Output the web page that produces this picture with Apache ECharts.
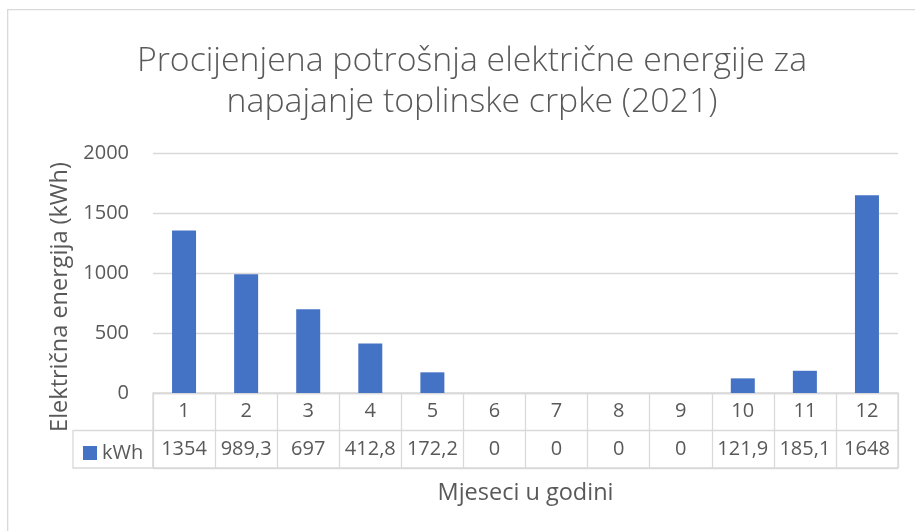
<!DOCTYPE html>
<html>
<head>
<meta charset="utf-8">
<script src="https://cdn.jsdelivr.net/npm/echarts@6/dist/echarts.min.js"></script>
<style>html,body{margin:0;padding:0;background:#fff}#c{width:915px;height:531px}</style>
</head>
<body>
<div id="c"></div>
<script>
const months = ['1','2','3','4','5','6','7','8','9','10','11','12'];
const kwh = [1354, 989.3, 697, 412.8, 172.2, 0, 0, 0, 0, 121.9, 185.1, 1648];
const yTicks = { min: 0, max: 2000, interval: 500 };
const seriesName = 'kWh';
const titleLines = ['Procijenjena potrošnja električne energije za', 'napajanje toplinske crpke (2021)'];
const yName = 'Električna energija (kWh)';
const xName = 'Mjeseci u godini';

const FONT = 'Open Sans';
const TXT = '#595959';
const LINE = '#d9d9d9';
const BLUE = '#4472C4';
const fmt = v => String(v).replace('.', ',');

const chart = echarts.init(document.getElementById('c'));
chart.setOption({
  animation: false,
  textStyle: { fontFamily: FONT, color: TXT },
  graphic: [{
    type: 'rect', left: 7, top: 9, z: -10,
    shape: { width: 930, height: 540 },
    style: { fill: '#fff', stroke: LINE, lineWidth: 1.3 }
  }],
  title: {
    text: titleLines.join('\n'),
    left: 467, top: 36, textAlign: 'center',
    textStyle: { fontFamily: FONT, fontSize: 33.8, fontWeight: 300, color: TXT, lineHeight: 41 }
  },
  legend: {
    left: 78, top: 438, itemWidth: 14, itemHeight: 14, itemGap: 4,
    icon: 'rect', selectedMode: false,
    textStyle: { fontFamily: FONT, fontSize: 20, color: TXT, padding: [0, 0, 0, 0] },
    data: [seriesName]
  },
  grid: [
    { left: 153, right: 17, top: 153, height: 240 },
    { left: 153, right: 17, top: 393, height: 75, show: true, borderColor: LINE, borderWidth: 1.3 },
    { left: 73, width: 80, top: 430.5, height: 37.5, show: true, borderColor: LINE, borderWidth: 1.3 }
  ],
  xAxis: [
    { gridIndex: 0, type: 'category', data: months, show: false },
    { gridIndex: 1, type: 'category', data: months, position: 'top',
      axisLine: { show: false }, axisTick: { show: false },
      splitLine: { show: true, interval: 0, lineStyle: { color: LINE, width: 1.3 } },
      axisLabel: { inside: true, margin: 18, verticalAlign: 'middle', interval: 0,
        fontFamily: FONT, fontSize: 20, color: TXT } },
    { gridIndex: 1, type: 'category', data: months, position: 'bottom',
      axisLine: { show: false }, axisTick: { show: false },
      axisLabel: { inside: true, margin: 19, verticalAlign: 'middle', interval: 0,
        fontFamily: FONT, fontSize: 20, color: TXT,
        formatter: (v, i) => fmt(kwh[i]) },
      name: xName, nameLocation: 'middle', nameGap: 13,
      nameTextStyle: { fontFamily: FONT, fontSize: 23.5, color: TXT } },
    { gridIndex: 2, type: 'value', show: false }
  ],
  yAxis: [
    { gridIndex: 0, type: 'value', min: yTicks.min, max: yTicks.max, interval: yTicks.interval,
      axisLine: { show: false }, axisTick: { show: false },
      axisLabel: { margin: 24, fontFamily: FONT, fontSize: 20, color: TXT, formatter: v => String(v) },
      splitLine: { lineStyle: { color: LINE, width: 1.3 } },
      name: yName, nameLocation: 'middle', nameGap: 81, nameRotate: 90,
      nameTextStyle: { fontFamily: FONT, fontSize: 23.5, color: TXT, padding: [0, 48, 0, 0] } },
    { gridIndex: 1, type: 'value', min: 0, max: 2, interval: 1,
      axisLine: { show: false }, axisTick: { show: false }, axisLabel: { show: false },
      splitLine: { show: true, lineStyle: { color: LINE, width: 1.3 } } },
    { gridIndex: 2, type: 'value', show: false }
  ],
  series: [{
    name: seriesName, type: 'bar', xAxisIndex: 0, yAxisIndex: 0,
    data: kwh, barWidth: 24,
    itemStyle: { color: BLUE }
  }]
});
</script>
</body>
</html>
